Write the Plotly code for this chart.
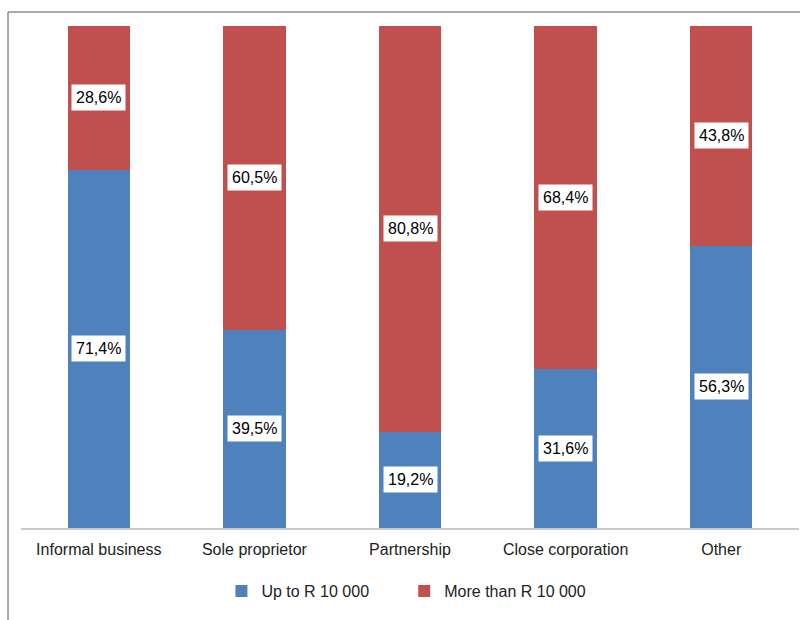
import plotly.graph_objects as go

categories = ["Informal business", "Sole proprietor", "Partnership", "Close corporation", "Other"]
up_to = [71.4, 39.5, 19.2, 31.6, 56.3]
more_than = [28.6, 60.5, 80.8, 68.4, 43.8]
series_names = ["Up to R 10 000", "More than R 10 000"]
colors = ["#4F81BD", "#C0504D"]

fig = go.Figure()
fig.add_trace(go.Bar(x=categories, y=up_to, name=series_names[0], marker_color=colors[0],
                     marker_line_width=0, width=0.4, legend="legend"))
fig.add_trace(go.Bar(x=categories, y=more_than, name=series_names[1], marker_color=colors[1],
                     marker_line_width=0, width=0.4, legend="legend2"))

def fmt(v):
    return f"{v:.1f}".replace(".", ",") + "%"

for c, a, b in zip(categories, up_to, more_than):
    tot = a + b
    na, nb = a / tot * 100, b / tot * 100
    for y, v in [(na / 2, a), (na + nb / 2, b)]:
        fig.add_annotation(x=c, y=y, text=fmt(v), showarrow=False, bgcolor="white",
                           borderpad=4, font=dict(family="Liberation Sans, Arial", size=16, color="#000"))

# outer frame (left and top edges visible)
fig.add_shape(type="line", xref="paper", yref="paper", x0=-0.0167, x1=-0.0167, y0=1.028, y1=-0.3,
              line=dict(color="#8c8c8c", width=1.5))
fig.add_shape(type="line", xref="paper", yref="paper", x0=-0.0167, x1=1.01, y0=1.028, y1=1.028,
              line=dict(color="#8c8c8c", width=1.5))

legend_common = dict(orientation="h", y=-0.1255, yanchor="middle", xanchor="left",
                     font=dict(size=16, color="#222"), itemwidth=30, bgcolor="rgba(0,0,0,0)")

fig.update_layout(
    barmode="stack", barnorm="percent",
    width=800, height=620,
    margin=dict(l=21, r=1, t=26, b=92),
    paper_bgcolor="white", plot_bgcolor="white",
    font=dict(family="Liberation Sans, Arial", size=16, color="#222"),
    showlegend=True,
    legend=dict(x=0.2576, **legend_common),
    legend2=dict(x=0.4926, **legend_common),
    bargap=0.6,
)
fig.update_xaxes(showline=True, linecolor="#c8c8c8", linewidth=1.5, ticks="", showgrid=False,
                 tickfont=dict(size=16, color="#222"), ticklabelstandoff=6)
fig.update_yaxes(range=[0, 100], visible=False, showgrid=False)

fig.write_html("out.html")
